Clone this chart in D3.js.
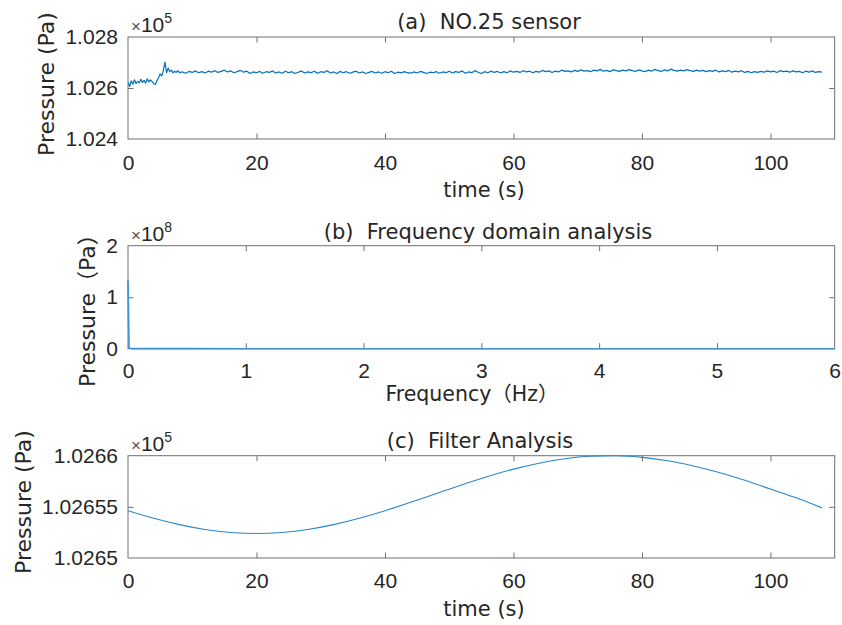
<!DOCTYPE html>
<html>
<head>
<meta charset="utf-8">
<script src="https://cdn.jsdelivr.net/npm/d3@7/dist/d3.min.js"></script>
<style>
  html, body { margin: 0; padding: 0; background: #fff; }
  svg text { white-space: pre; }
</style>
</head>
<body>
<svg id="chart" width="842" height="625"></svg>
<script>
// ---------------- DATA ----------------
// (a) NO.25 sensor: raw pressure (Pa)
const rawTimeEarly = [0,0.25,0.5,0.75,1,1.25,1.5,1.75,2,2.25,2.5,2.75,3,3.25,3.5,3.75,4,4.25,4.5,4.75,5,5.25,5.5,5.75,6,6.25,6.5,6.75,7,7.25,7.5,7.75,8];
const rawValEarly = [102622,102606,102628,102615,102632,102618,102626,102620,102634,102622,102630,102619,102636,102624,102632,102625,102618,102614,102628,102640,102655,102648,102668,102702,102660,102678,102664,102670,102659,102666,102661,102668,102660];
const rawStartLate = 8.5, rawStepLate = 0.5;
const rawValLate = [
 102663,102658,102665,102661,102667,102660,102664,102659,102666,102662,102668,102661,102665,102670,102663,102667,102660,102664,102669,102662,
 102666,102657,102663,102660,102665,102658,102664,102661,102667,102659,102663,102658,102666,102660,102664,102657,102662,102667,102659,102663,
 102660,102666,102658,102664,102661,102668,102659,102663,102657,102665,102660,102664,102658,102662,102666,102659,102663,102657,102661,102665,
 102659,102663,102658,102664,102660,102666,102657,102662,102659,102664,102660,102658,102663,102659,102665,102661,102657,102662,102660,102664,
 102658,102663,102660,102666,102659,102664,102661,102667,102658,102663,102660,102668,102662,102657,102664,102660,102666,102661,102665,102659,
 102664,102660,102667,102662,102665,102661,102668,102663,102666,102660,102665,102662,102669,102664,102667,102661,102666,102663,102670,102665,
 102667,102663,102669,102665,102671,102666,102668,102664,102670,102667,102673,102666,102669,102664,102671,102668,102665,102670,102667,102672,
 102668,102665,102671,102667,102664,102670,102666,102673,102668,102665,102671,102667,102674,102669,102666,102670,102667,102672,102668,102665,
 102670,102666,102669,102664,102668,102665,102670,102663,102667,102664,102669,102662,102666,102663,102668,102661,102665,102660,102664,102661,
 102665,102662,102667,102663,102666,102661,102668,102664,102666,102662,102667,102663,102665,102660,102666,102662,102667,102661,102664,102662
];
const xTicksTime = [0, 20, 40, 60, 80, 100];
const yTicksA = [102400, 102600, 102800];
const yTickLabelsA = ["1.024", "1.026", "1.028"];

// (b) Frequency domain analysis
const freqHz = [0, 0.009, 0.018, 0.05, 0.1, 0.5, 1, 2, 3, 4, 5, 6];
const freqAmp = [1.33e8, 1.2e6, 5e5, 2e5, 1e5, 5e4, 3e4, 2e4, 2e4, 1e4, 1e4, 1e4];
const xTicksFreq = [0, 1, 2, 3, 4, 5, 6];
const yTicksB = [0, 1e8, 2e8];
const yTickLabelsB = ["0", "1", "2"];

// (c) Filter Analysis
const filtTime = [0,4,8,12,16,20,24,28,32,36,40,44,48,52,56,60,64,68,72,76,80,84,88,92,96,100,104,108];
const filtVal = [102654.62,102653.88,102653.26,102652.79,102652.50,102652.40,102652.50,102652.79,102653.26,102653.88,
                 102654.62,102655.44,102656.31,102657.17,102657.97,102658.69,102659.27,102659.70,102659.94,102659.99,
                 102659.84,102659.51,102659.00,102658.36,102657.60,102656.74,102655.88,102654.90];
const yTicksC = [102650, 102655, 102660];
const yTickLabelsC = ["1.0265", "1.02655", "1.0266"];

// ---------------- DRAW ----------------
const svg = d3.select("#chart");
const TXT = "#262626";
const FRAME = "#707070";
const BLUE = "#0072BD";
const tickFont = "'Liberation Sans', Arial, sans-serif";
const labFont = "'DejaVu Sans', 'Noto Sans CJK SC', sans-serif";
const cjkFont = "'Noto Sans CJK SC', sans-serif";

const X0 = 128, X1 = 834.7;

// write a label where full-width brackets are set in a CJK font
function richText(sel, str) {
  const parts = str.split(/([（）])/).filter(s => s.length);
  parts.forEach(p => {
    const t = sel.append("tspan").text(p);
    if (p === "（" || p === "）") t.style("font-family", cjkFont);
  });
}

function panel(cfg) {
  const g = svg.append("g");
  const x = d3.scaleLinear().domain(cfg.xDomain).range([X0, X1]);
  const y = d3.scaleLinear().domain(cfg.yDomain).range([cfg.bottom, cfg.top]);
  const id = "clip" + cfg.key;
  svg.append("clipPath").attr("id", id).append("rect")
    .attr("x", X0).attr("y", cfg.top - 1).attr("width", X1 - X0).attr("height", cfg.bottom - cfg.top + 2);

  // frame
  g.append("rect").attr("x", X0).attr("y", cfg.top).attr("width", X1 - X0).attr("height", cfg.bottom - cfg.top)
    .attr("fill", "none").attr("stroke", FRAME).attr("stroke-width", 1);

  const tl = 5.5;
  function styleAxis(sel, showText) {
    sel.select(".domain").remove();
    sel.selectAll(".tick line").attr("stroke", FRAME);
    sel.selectAll(".tick text").attr("fill", TXT).style("font-family", tickFont).style("font-size", "21px")
      .style("display", showText ? null : "none");
  }
  const bx = g.append("g").attr("transform", `translate(0,${cfg.bottom})`)
    .call(d3.axisBottom(x).tickValues(cfg.xTicks).tickFormat(d3.format("d")).tickSizeInner(-tl).tickSizeOuter(0).tickPadding(cfg.xPad));
  styleAxis(bx, true);
  bx.selectAll(".tick line").filter(d => d === cfg.xDomain[0] || d === cfg.xDomain[1]).remove();
  const tx = g.append("g").attr("transform", `translate(0,${cfg.top})`)
    .call(d3.axisTop(x).tickValues(cfg.xTicks).tickSizeInner(-tl).tickSizeOuter(0));
  styleAxis(tx, false);
  tx.selectAll(".tick line").filter(d => d === cfg.xDomain[0] || d === cfg.xDomain[1]).remove();

  const ly = g.append("g").attr("transform", `translate(${X0},0)`)
    .call(d3.axisLeft(y).tickValues(cfg.yTicks).tickFormat((d, i) => cfg.yLabels[i]).tickSizeInner(-tl).tickSizeOuter(0).tickPadding(10));
  styleAxis(ly, true);
  ly.selectAll(".tick line").filter(d => d === cfg.yDomain[0] || d === cfg.yDomain[1]).remove();
  const ry = g.append("g").attr("transform", `translate(${X1},0)`)
    .call(d3.axisRight(y).tickValues(cfg.yTicks).tickSizeInner(-tl).tickSizeOuter(0));
  styleAxis(ry, false);
  ry.selectAll(".tick line").filter(d => d === cfg.yDomain[0] || d === cfg.yDomain[1]).remove();

  // data line
  const line = d3.line().x(d => x(d[0])).y(d => y(d[1]));
  if (cfg.curve) line.curve(cfg.curve);
  g.append("path").datum(cfg.data)
    .attr("clip-path", cfg.clip === false ? null : `url(#${id})`)
    .attr("d", line).attr("fill", "none").attr("stroke", cfg.color || BLUE).attr("stroke-width", cfg.lw || 1.1)
    .attr("stroke-linejoin", "round");

  // exponent label
  const ex = g.append("text").attr("x", X0 + 3).attr("y", cfg.top - 5).attr("fill", TXT)
    .style("font-family", tickFont);
  ex.append("tspan").style("font-size", "17px").attr("fill", "#555").text("×");
  ex.append("tspan").style("font-size", "21px").text("10");
  ex.append("tspan").attr("dy", -9).style("font-size", "14px").text(cfg.exp);

  // title
  g.append("text").attr("x", cfg.titleX).attr("y", cfg.titleY).attr("text-anchor", "middle").attr("fill", TXT)
    .style("font-family", labFont).style("font-size", "21px").text(cfg.title);
  // x label
  const xl = g.append("text").attr("x", cfg.xlabX).attr("y", cfg.xlabY).attr("text-anchor", "middle").attr("fill", TXT)
    .style("font-family", labFont).style("font-size", cfg.xlabSize || "21px");
  richText(xl, cfg.xlab);
  // y label
  const yl = g.append("text").attr("transform", `translate(${cfg.ylabX},${cfg.ylabY}) rotate(-90)`).attr("text-anchor", "middle")
    .attr("fill", TXT).style("font-family", labFont).style("font-size", "22px");
  richText(yl, cfg.ylab);
}

// data assembly
const rawData = rawTimeEarly.map((t, i) => [t, rawValEarly[i]])
  .concat(rawValLate.map((v, i) => [rawStartLate + i * rawStepLate, v]));
const freqData = freqHz.map((f, i) => [f, freqAmp[i]]);
const filtData = filtTime.map((t, i) => [t, filtVal[i]]);

panel({key: "a", top: 37, bottom: 139, xDomain: [0, 110], yDomain: [102400, 102800],
  xTicks: xTicksTime, yTicks: yTicksA, yLabels: yTickLabelsA, xPad: 16, exp: "5",
  data: rawData, lw: 1.2, title: "(a)  NO.25 sensor", titleX: 489, titleY: 29,
  xlab: "time (s)", xlabX: 484, xlabY: 197, ylab: "Pressure (Pa)", ylabX: 54, ylabY: 84});

panel({key: "b", top: 245.7, bottom: 348.7, xDomain: [0, 6], yDomain: [0, 2e8],
  xTicks: xTicksFreq, yTicks: yTicksB, yLabels: yTickLabelsB, xPad: 14, exp: "8",
  data: freqData, clip: false, color: "#3a93d3", lw: 1.6,
  title: "(b)  Frequency domain analysis", titleX: 488, titleY: 239,
  xlab: "Frequency（Hz）", xlabX: 472, xlabY: 401, xlabSize: "20.5px", ylab: "Pressure（Pa）", ylabX: 95, ylabY: 305});

panel({key: "c", top: 455.7, bottom: 558, xDomain: [0, 110], yDomain: [102650, 102660],
  xTicks: xTicksTime, yTicks: yTicksC, yLabels: yTickLabelsC, xPad: 15.5, exp: "5",
  data: filtData, curve: d3.curveMonotoneX, color: "#2a86cc",
  title: "(c)  Filter Analysis", titleX: 480, titleY: 448,
  xlab: "time (s)", xlabX: 484, xlabY: 616, ylab: "Pressure (Pa)", ylabX: 31, ylabY: 502});
</script>
</body>
</html>
